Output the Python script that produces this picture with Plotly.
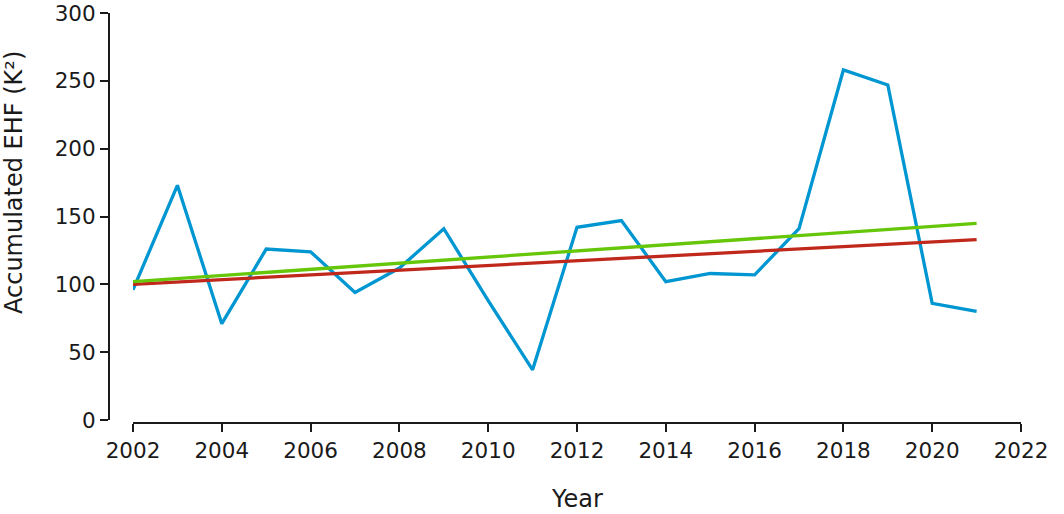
import plotly.graph_objects as go

years = list(range(2002, 2022))
ehf = [96, 173, 71, 126, 124, 94, 112, 141, 88, 37, 142, 147, 102, 108, 107, 141, 258, 247, 86, 80]

trend_years = [2002, 2021]
trend_red = [100, 133]
trend_green = [102, 145]

x_ticks = list(range(2002, 2023, 2))
y_ticks = [0, 50, 100, 150, 200, 250, 300]

FONT = "DejaVu Sans"
INK = "#1a1a1a"
fig = go.Figure()
fig.add_trace(go.Scatter(x=years, y=ehf, mode="lines",
                         line=dict(color="#0096d1", width=3.3), showlegend=False))
fig.add_trace(go.Scatter(x=trend_years, y=trend_red, mode="lines",
                         line=dict(color="#c0281c", width=3.3), showlegend=False))
fig.add_trace(go.Scatter(x=trend_years, y=trend_green, mode="lines",
                         line=dict(color="#66c60a", width=3.3), showlegend=False))

T, B = 13, 91
W = 1064 - 109 - 43
H = 514 - T - B
fig.update_layout(
    width=1064, height=514,
    margin=dict(l=109, r=43, t=T, b=B),
    paper_bgcolor="white", plot_bgcolor="white",
    font=dict(family=FONT, color=INK, size=21.5),
    xaxis=dict(domain=[24 / W, 1], range=[2002, 2022], tickvals=x_ticks,
               showgrid=False, zeroline=False, showline=True, linecolor=INK,
               linewidth=2, ticks="outside", ticklen=8, tickwidth=2, tickcolor=INK,
               anchor="free", position=0, automargin=False,
               ticklabeloverflow="allow"),
    yaxis=dict(domain=[3 / H, 1], range=[0, 300], tickvals=y_ticks,
               showgrid=False, zeroline=False, showline=True, linecolor=INK,
               linewidth=2, ticks="outside", ticklen=8, tickwidth=2, tickcolor=INK,
               anchor="free", position=0, automargin=False,
               ticklabeloverflow="allow"),
    annotations=[
        dict(text="Year", xref="x domain", x=0.5, yref="paper", y=-76 / H,
             yanchor="middle", xanchor="center", showarrow=False,
             font=dict(size=24, family=FONT, color=INK)),
        dict(text="Accumulated EHF (K²)", xref="paper", x=-95 / W, xanchor="center",
             yref="paper", y=(420 - 180) / H, yanchor="middle", textangle=-90,
             showarrow=False, font=dict(size=24, family=FONT, color=INK)),
    ],
)
fig.write_html("out.html", config={"displayModeBar": False},
               post_script="document.body.style.margin='0';document.body.style.overflow='hidden';")
